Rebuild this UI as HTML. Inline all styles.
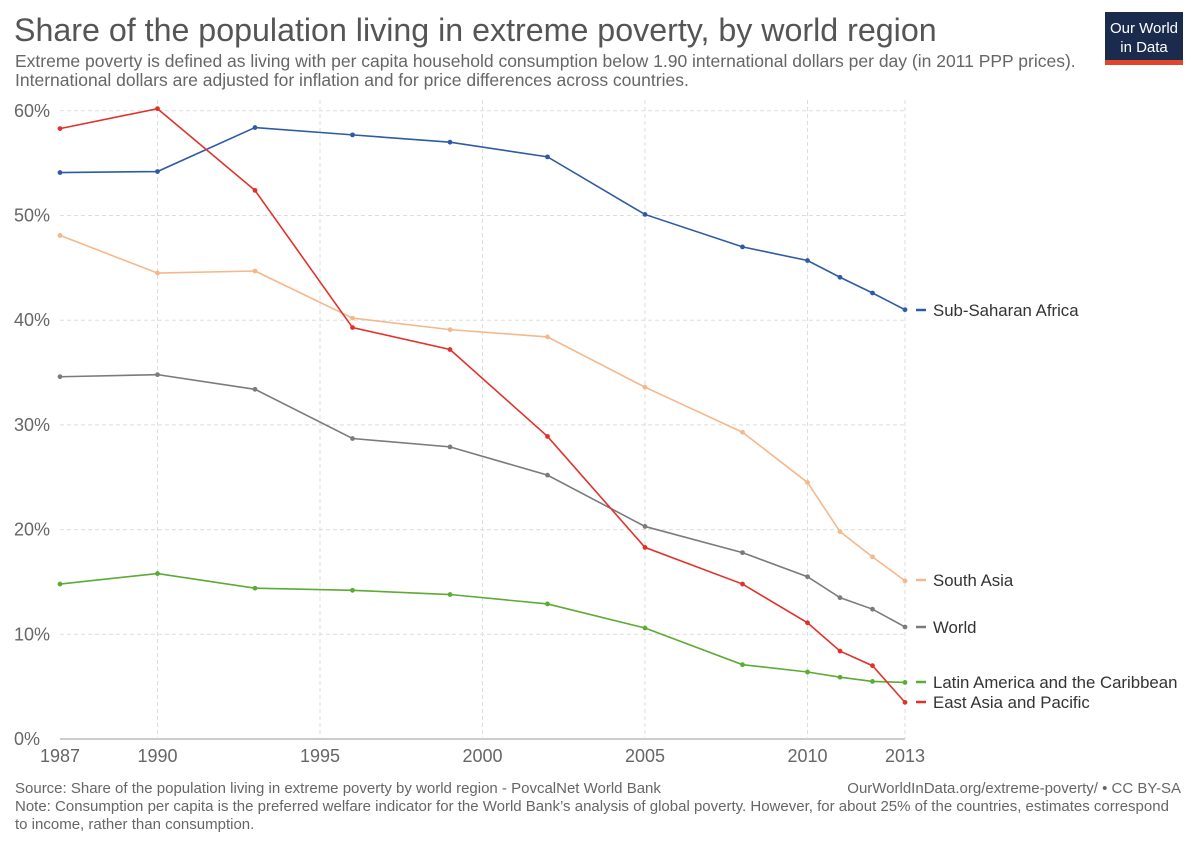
<!DOCTYPE html>
<html><head><meta charset="utf-8"><style>
body{margin:0;background:#fff;font-family:"Liberation Sans",sans-serif;}
svg text{font-family:"Liberation Sans",sans-serif;}
</style></head><body>
<svg id="c" width="1200" height="847" xmlns="http://www.w3.org/2000/svg">
<text x="14" y="41" font-size="32.2" fill="#555">Share of the population living in extreme poverty, by world region</text>
<text x="15" y="67" font-size="17.5" fill="#666">Extreme poverty is defined as living with per capita household consumption below 1.90 international dollars per day (in 2011 PPP prices).</text>
<text x="15" y="86" font-size="17.5" fill="#666">International dollars are adjusted for inflation and for price differences across countries.</text>
<g>
<rect x="1105" y="12" width="78" height="50" fill="#1a2b4e"/>
<rect x="1105" y="60" width="78" height="5" fill="#e0452c"/>
<text x="1144" y="33" font-size="15" fill="#fff" text-anchor="middle">Our World</text>
<text x="1144" y="52" font-size="15" fill="#fff" text-anchor="middle">in Data</text>
</g>
<g id="grid"></g><g id="series"></g><g id="labels"></g>
<text x="15" y="793" font-size="15" fill="#666">Source: Share of the population living in extreme poverty by world region - PovcalNet World Bank</text>
<text x="1181" y="793" font-size="15" fill="#666" text-anchor="end">OurWorldInData.org/extreme-poverty/ • CC BY-SA</text>
<text x="15" y="811" font-size="15" fill="#666">Note: Consumption per capita is the preferred welfare indicator for the World Bank’s analysis of global poverty. However, for about 25% of the countries, estimates correspond</text>
<text x="15" y="829" font-size="15" fill="#666">to income, rather than consumption.</text>
</svg>
<script>
const years=[1987,1990,1993,1996,1999,2002,2005,2008,2010,2011,2012,2013];
const ssa=[54.1,54.2,58.4,57.7,57.0,55.6,50.1,47.0,45.7,44.1,42.6,41.0];
const southAsia=[48.1,44.5,44.7,40.2,39.1,38.4,33.6,29.3,24.5,19.8,17.4,15.1];
const world=[34.6,34.8,33.4,28.7,27.9,25.2,20.3,17.8,15.5,13.5,12.4,10.7];
const latam=[14.8,15.8,14.4,14.2,13.8,12.9,10.6,7.1,6.4,5.9,5.5,5.4];
const eap=[58.3,60.2,52.4,39.3,37.2,28.9,18.3,14.8,11.1,8.4,7.0,3.5];
const xTicks=[1987,1990,1995,2000,2005,2010,2013];
const yTicks=[0,10,20,30,40,50,60];
const seriesNames=["Sub-Saharan Africa","South Asia","World","Latin America and the Caribbean","East Asia and Pacific"];
const NS="http://www.w3.org/2000/svg";
const x=v=>60+(v-1987)*(845/26);
const y=v=>739-v*10.47;
function mk(t,a,p){const e=document.createElementNS(NS,t);for(const k in a)e.setAttribute(k,a[k]);p.appendChild(e);return e;}
const g=document.getElementById('grid');
yTicks.forEach(t=>{
 const l=mk('line',{x1:60,x2:905,y1:y(t),y2:y(t),stroke:t?'#ddd':'#999','stroke-dasharray':t?'4,3':'none'},g);
 
 
 const tx=mk('text',{x:14,y:y(t)+6,'font-size':18,fill:'#666'},g);tx.textContent=t+'%';
 
 
});
xTicks.forEach(t=>{
 if(t!==1987){const l=mk('line',{x1:x(t),x2:x(t),y1:100,y2:739,stroke:'#ddd','stroke-dasharray':'4,3'},g);
 
 }
 const tx=mk('text',{x:x(t),y:762,'font-size':18,fill:'#666','text-anchor':'middle'},g);tx.textContent=t;
 
 
});
const data=[ssa,southAsia,world,latam,eap];
const colors=['#2f5aa5','#f5b88c','#7b7b7b','#5bab34','#e0322b'];
const labelY=[310,580,627,682,702];
const sg=document.getElementById('series'),lg=document.getElementById('labels');
data.forEach((d,i)=>{
 const grp=mk('g',{},sg);
 
 
 mk('polyline',{points:d.map((v,j)=>x(years[j])+','+y(v)).join(' '),fill:'none',stroke:colors[i],'stroke-width':1.6},grp);
 d.forEach((v,j)=>{const c=mk('circle',{cx:x(years[j]),cy:y(v),r:2.4,fill:colors[i]},grp);
  
  });
 const lab=mk('g',{},lg);
 
 
 mk('line',{x1:916,x2:926,y1:labelY[i],y2:labelY[i],stroke:colors[i],'stroke-width':2.5},lab);
 const t=mk('text',{x:933,y:labelY[i]+6,'font-size':16.8,fill:'#333'},lab);t.textContent=seriesNames[i];
});
</script>
</body></html>
